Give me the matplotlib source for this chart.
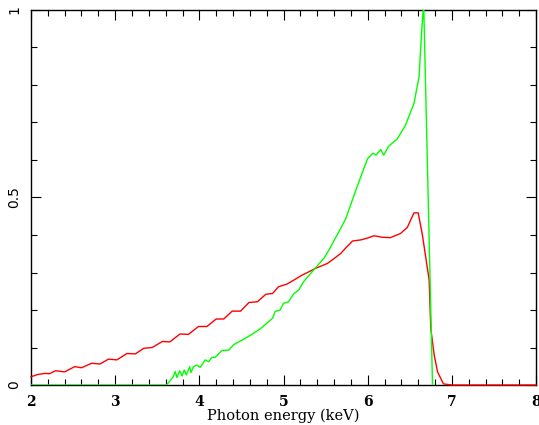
import matplotlib
matplotlib.use("Agg")
import matplotlib.pyplot as plt
from matplotlib.ticker import MultipleLocator

# curva roja (espectro ancho)
red_x = [2.0, 2.08, 2.17, 2.22, 2.29, 2.4, 2.52, 2.6, 2.72, 2.82, 2.92, 3.02,
         3.14, 3.24, 3.34, 3.44, 3.56, 3.65, 3.77, 3.87, 3.99, 4.09, 4.20, 4.29,
         4.39, 4.49, 4.59, 4.69, 4.79, 4.87, 4.94, 5.04, 5.14, 5.22, 5.32, 5.38,
         5.52, 5.60, 5.68, 5.75, 5.82, 5.92, 6.0, 6.075, 6.17, 6.27, 6.39, 6.47,
         6.55, 6.60, 6.65, 6.73, 6.75, 6.79, 6.83, 6.9, 7.0, 8.0]
red_y = [0.022, 0.028, 0.031, 0.030, 0.038, 0.035, 0.049, 0.046, 0.058, 0.056, 0.069, 0.067,
         0.084, 0.083, 0.098, 0.100, 0.116, 0.115, 0.136, 0.135, 0.156, 0.156, 0.176, 0.176,
         0.197, 0.197, 0.220, 0.222, 0.242, 0.244, 0.262, 0.269, 0.282, 0.293, 0.304, 0.311,
         0.324, 0.337, 0.351, 0.368, 0.384, 0.387, 0.392, 0.398, 0.394, 0.393, 0.404, 0.420,
         0.459, 0.459, 0.40, 0.28, 0.15, 0.08, 0.035, 0.003, 0.0, 0.0]

# curva verde (linea estrecha)
green_x = [2.0, 3.61, 3.69, 3.714, 3.734, 3.766, 3.794, 3.821, 3.845, 3.885, 3.90,
           3.93, 3.97, 4.01, 4.07, 4.11, 4.15, 4.19, 4.27, 4.35, 4.41, 4.51, 4.61,
           4.73, 4.87, 4.90, 4.96, 5.00, 5.06, 5.12, 5.18, 5.24, 5.34, 5.48, 5.54,
           5.68, 5.74, 5.86, 5.94, 6.0, 6.06, 6.10, 6.155, 6.19, 6.25, 6.35, 6.45,
           6.55, 6.61, 6.64, 6.665, 6.77]
green_y = [0.0, 0.0, 0.022, 0.036, 0.020, 0.038, 0.024, 0.040, 0.027, 0.049, 0.033,
           0.049, 0.053, 0.047, 0.067, 0.062, 0.074, 0.074, 0.092, 0.093, 0.108, 0.120, 0.133,
           0.151, 0.178, 0.196, 0.200, 0.218, 0.222, 0.243, 0.253, 0.276, 0.302, 0.338, 0.360,
           0.418, 0.444, 0.520, 0.569, 0.604, 0.618, 0.613, 0.628, 0.613, 0.637, 0.656, 0.693,
           0.751, 0.822, 0.938, 1.02, 0.0]

fig = plt.figure(figsize=(5.39, 4.25), dpi=100)
ax = fig.add_axes([0.0575, 0.0941, 0.937, 0.8824])

ax.plot(red_x, red_y, color="#ff0000", lw=1.0, clip_on=False, zorder=3)
ax.plot(green_x, green_y, color="#00ff00", lw=1.0, zorder=4)

ax.set_xlim(2, 8)
ax.set_ylim(0, 1)
ax.xaxis.set_major_locator(MultipleLocator(1))
ax.xaxis.set_minor_locator(MultipleLocator(0.2))
ax.yaxis.set_major_locator(MultipleLocator(0.5))
ax.yaxis.set_minor_locator(MultipleLocator(0.1))
ax.set_yticks([0, 0.5, 1])
ax.set_yticklabels(["0", "0.5", "1"], rotation=90, va="center")

ax.tick_params(which="both", direction="in", top=True, right=True, width=0.8)
ax.tick_params(which="major", length=7)
ax.tick_params(which="minor", length=4)
ax.tick_params(axis="x", pad=7)
ax.tick_params(axis="y", pad=7)
for lab in ax.get_xticklabels():
    lab.set_family("DejaVu Serif")
    lab.set_fontweight("bold")
    lab.set_fontsize(10)
for lab in ax.get_yticklabels():
    lab.set_fontsize(10)
for s in ax.spines.values():
    s.set_linewidth(1.0)

ax.set_xlabel("Photon energy (keV)", family="DejaVu Serif", fontsize=10.5, labelpad=0)

plt.savefig("out.png", dpi=100)
